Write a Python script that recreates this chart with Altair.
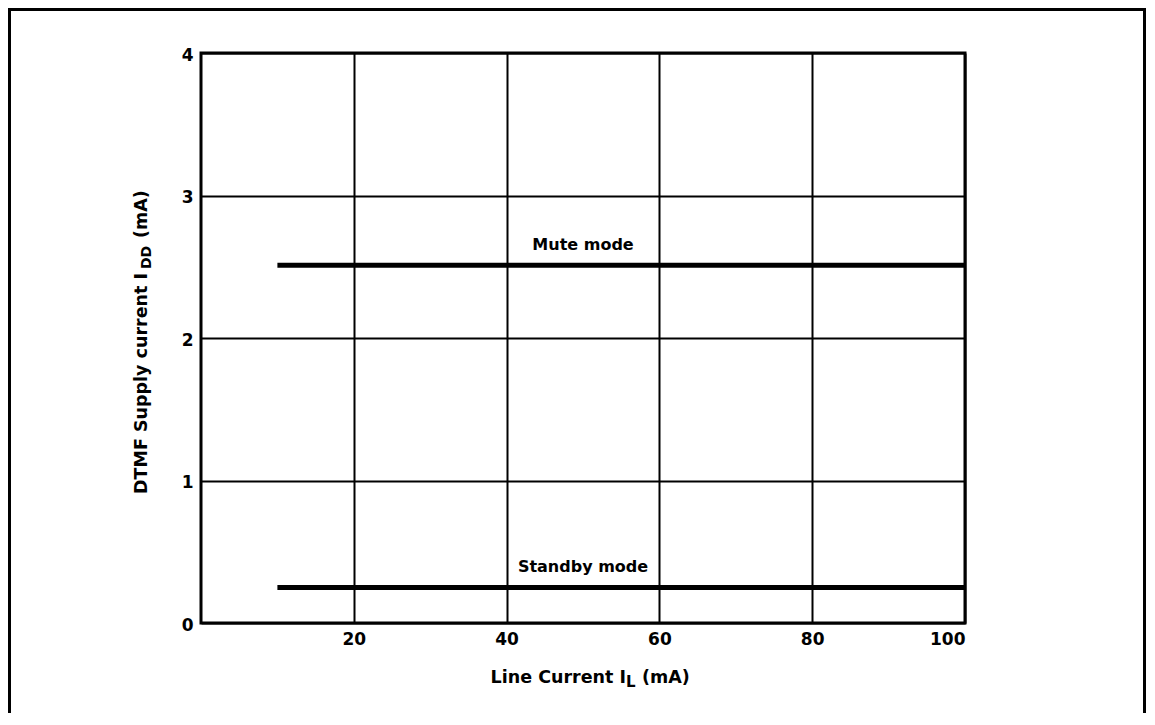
import altair as alt
import pandas as pd

# ---- data ----
modes = ["Mute mode", "Standby mode"]
line_start = [10, 10]          # Line current I_L (mA) where curves start
line_end = [100, 100]          # ... and end
supply_current = [2.51, 0.25]  # DTMF supply current I_DD (mA)
label_at = [50, 50]            # I_L where each curve is labelled

x_ticks = [20, 40, 60, 80, 100]
y_ticks = [0, 1, 2, 3, 4]

FONT = "DejaVu Sans"
W, H = 764, 570
PAD = {"left": 193, "top": 45, "right": 181, "bottom": 90}

df = pd.DataFrame({
    "mode": modes,
    "x0": line_start,
    "x1": line_end,
    "y": supply_current,
    "lx": label_at,
})

xscale = alt.Scale(domain=[0, 100], nice=False, zero=False)
yscale = alt.Scale(domain=[0, 4], nice=False)

base = alt.Chart(df)

lines = base.mark_rule(color="black", strokeWidth=5, strokeCap="butt").encode(
    x=alt.X("x0:Q", scale=xscale,
            axis=alt.Axis(values=x_ticks, title=None, labelPadding=8, format="d")),
    x2="x1:Q",
    y=alt.Y("y:Q", scale=yscale,
            axis=alt.Axis(values=y_ticks, title=None, labelPadding=8, labelOffset=2,
                          format="d")),
)

labels = base.mark_text(font=FONT, fontSize=16, fontWeight="bold", color="black",
                        align="center", baseline="alphabetic", dy=-15).encode(
    x=alt.X("lx:Q", scale=xscale),
    y=alt.Y("y:Q", scale=yscale),
    text="mode:N",
)

one = pd.DataFrame({"a": [0]})

def txt(s, x, y, size=17.5, align="left", angle=0):
    kw = dict(text=s, font=FONT, fontSize=size, fontWeight="bold", color="black",
              align=align, baseline="alphabetic")
    if angle:
        kw["angle"] = angle
    return alt.Chart(one).mark_text(**kw).encode(x=alt.value(x), y=alt.value(y))

# x-axis title: Line Current I_L (mA)
xt1 = txt("Line Current I", 425, 630, align="right")
xt2 = txt("L", 425, 634, size=15)
xt3 = txt("(mA)", 441, 630)

# y-axis title: DTMF Supply current I_DD (mA), rotated
yt1 = txt("DTMF Supply current I", -54, 220, align="right", angle=270)
yt2 = txt("DD", -50.5, 216, size=14, angle=270)
yt3 = txt("(mA)", -54, 185, angle=270)

# outer page frame (left, top, right edges)
frame_left = alt.Chart(one).mark_rule(color="black", strokeWidth=3).encode(
    x=alt.value(-191.5), y=alt.value(-43.5), y2=alt.value(H + PAD["bottom"]))
frame_top = alt.Chart(one).mark_rule(color="black", strokeWidth=3).encode(
    x=alt.value(-193), x2=alt.value(W + PAD["right"] - 1), y=alt.value(-43.5))
frame_right = alt.Chart(one).mark_rule(color="black", strokeWidth=3).encode(
    x=alt.value(W + PAD["right"] - 1.5), y=alt.value(-45), y2=alt.value(H + PAD["bottom"]))

chart = alt.layer(
    lines, labels, xt1, xt2, xt3, yt1, yt2, yt3, frame_left, frame_top, frame_right
).properties(
    width=W, height=H, padding=PAD,
    autosize=alt.AutoSizeParams(type="none"),
    background="white",
).configure_view(
    stroke="black", strokeWidth=3,
).configure_axis(
    grid=True, gridColor="black", gridWidth=2, gridOpacity=1,
    ticks=False, tickSize=0, domain=False,
    labelFont=FONT, labelFontSize=17, labelFontWeight="bold", labelColor="black",
)

chart.save("out.html", embed_options={"renderer": "svg", "actions": False})
